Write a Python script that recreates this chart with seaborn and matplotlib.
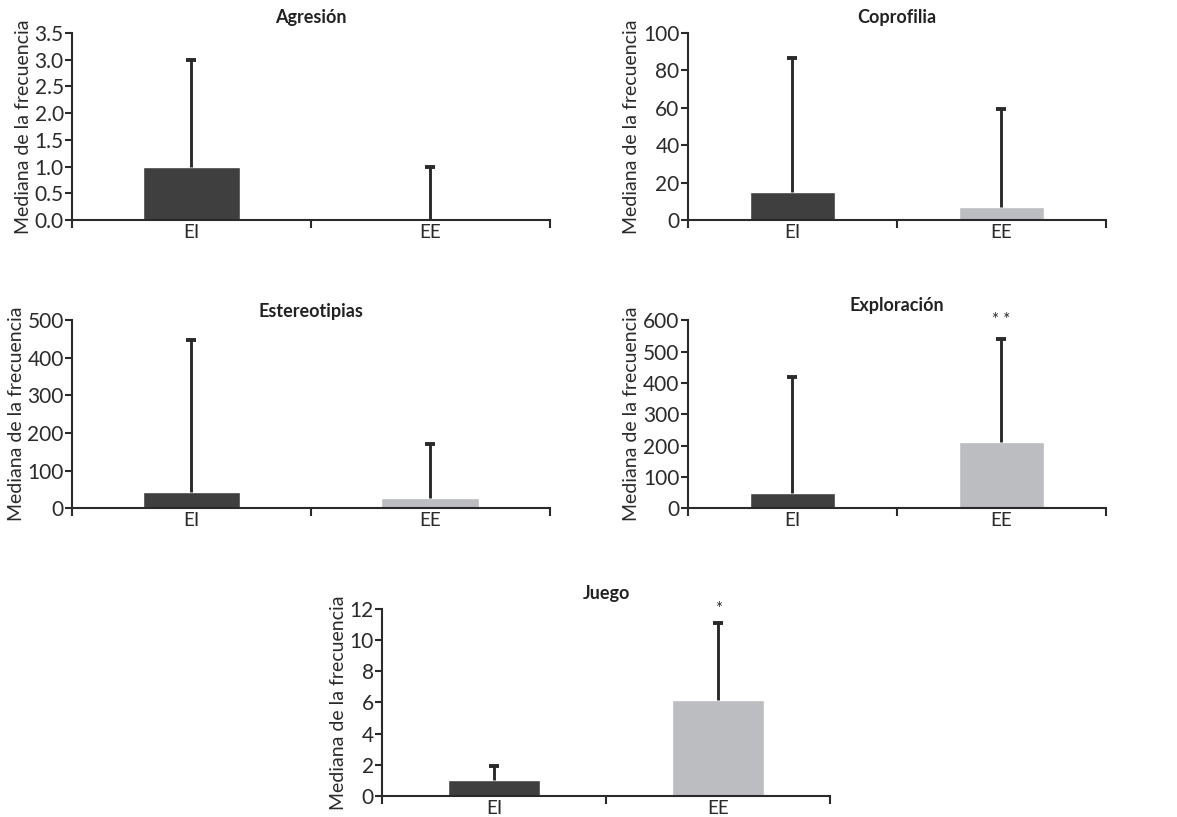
import numpy as np
import pandas as pd
import matplotlib.pyplot as plt
import seaborn as sns
from matplotlib.ticker import FixedLocator

# Datos (mediana y limite superior)
grupos = ["EI", "EE"]
titulos = ["Agresión", "Coprofilia", "Estereotipias", "Exploración", "Juego"]
medianas = {
    "Agresión": [1.0, 0.0],
    "Coprofilia": [15.2, 6.8],
    "Estereotipias": [43, 26],
    "Exploración": [47, 210],
    "Juego": [1.0, 6.15],
}
superiores = {
    "Agresión": [3.0, 1.0],
    "Coprofilia": [86.5, 59.5],
    "Estereotipias": [447, 170],
    "Exploración": [418, 541],
    "Juego": [1.95, 11.1],
}
ymax = {"Agresión": 3.5, "Coprofilia": 100, "Estereotipias": 500, "Exploración": 600, "Juego": 12}
ypaso = {"Agresión": 0.5, "Coprofilia": 20, "Estereotipias": 100, "Exploración": 100, "Juego": 2}
signif = {"Exploración": "* *", "Juego": "*"}

colores = ["#3f3f3f", "#bcbdc0"]
oscuro = "#2a2a2a"

sns.set_theme(style="ticks")
plt.rcParams["font.family"] = ["Lato", "DejaVu Sans"]

fig = plt.figure(figsize=(11.77, 8.17), dpi=100)

# posiciones de los paneles [izq, abajo, ancho, alto]
pos = {
    "Agresión": [0.0612, 0.7307, 0.406, 0.2289],
    "Coprofilia": [0.5845, 0.7307, 0.355, 0.2289],
    "Estereotipias": [0.0612, 0.378, 0.406, 0.230],
    "Exploración": [0.5845, 0.378, 0.355, 0.230],
    "Juego": [0.3246, 0.0257, 0.3806, 0.229],
}
titulo_pad = {"Agresión": 7, "Coprofilia": 7, "Estereotipias": -3, "Exploración": 7, "Juego": 7}

for t in titulos:
    ax = fig.add_axes(pos[t])
    df = pd.DataFrame({"grupo": grupos, "valor": medianas[t]})
    sns.barplot(data=df, x="grupo", y="valor", hue="grupo", palette=colores,
                width=0.41, errorbar=None, legend=False, ax=ax, saturation=1)
    x = np.arange(len(grupos))
    # solo la parte superior del intervalo, con tope arriba
    ax.vlines(x, medianas[t], superiores[t], colors=oscuro, linewidth=2.1, zorder=3)
    ax.plot(x, superiores[t], linestyle="none", marker="_", markersize=6.5,
            markeredgewidth=2.8, color=oscuro, zorder=3)
    if t in signif:
        ax.text(1, ymax[t], signif[t], ha="center", va="center", fontsize=12, color=oscuro)

    ax.set_xlim(-0.5, 1.5)
    ax.set_ylim(0, ymax[t])
    ax.set_yticks(np.arange(0, ymax[t] + ypaso[t] / 2, ypaso[t]))
    if t == "Agresión":
        ax.set_yticklabels([f"{v:.1f}" for v in ax.get_yticks()])
    else:
        ax.set_yticklabels([f"{v:g}" for v in ax.get_yticks()])
    ax.xaxis.set_minor_locator(FixedLocator([-0.5, 0.5, 1.5]))
    ax.tick_params(axis="x", which="major", length=0, pad=3, labelsize=13.5, colors=oscuro)
    ax.tick_params(axis="x", which="minor", length=6, width=1.5, color=oscuro)
    ax.tick_params(axis="y", length=5, width=1.5, pad=1, labelsize=15, color=oscuro, labelcolor=oscuro)
    for s in ["left", "bottom"]:
        ax.spines[s].set_linewidth(1.5)
        ax.spines[s].set_color(oscuro)
    sns.despine(ax=ax)
    ax.set_xlabel("")
    ax.set_ylabel("Mediana de la frecuencia", fontsize=14, color=oscuro, labelpad=2)
    ax.set_title(t, fontsize=13, fontweight="bold", color="#222222", pad=titulo_pad[t])

plt.savefig("out.png", dpi=100)
